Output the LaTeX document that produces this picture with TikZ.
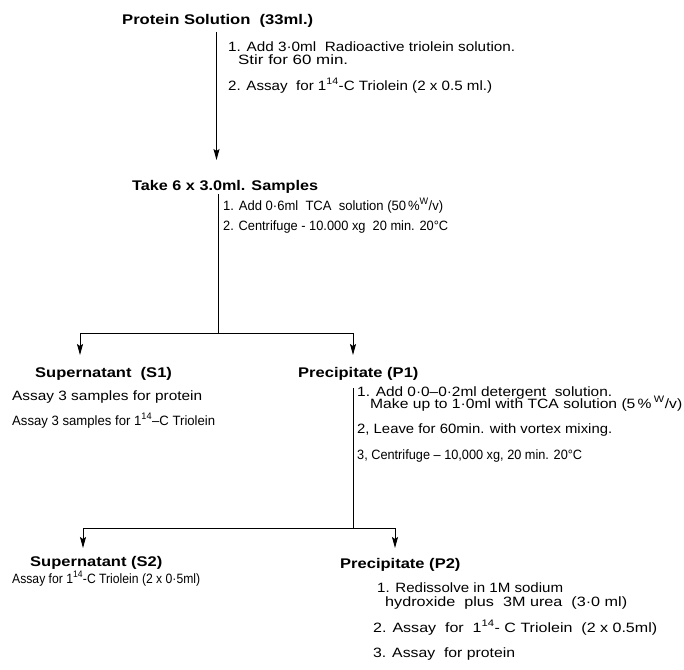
\documentclass[tikz,border=0pt]{standalone}
\usepackage{fontspec}
\usepackage{graphicx}
\usetikzlibrary{arrows.meta}
\newfontfamily\stepfont[FakeStretch=1.14]{Liberation Sans}
\newfontfamily\headfont[FakeStretch=1.18]{Liberation Sans}
\newcommand\fitw[2]{\resizebox{#1pt}{\height}{#2}}
\begin{document}
\begin{tikzpicture}[x=1pt,y=-1pt,
  txt/.style={anchor=base west,inner sep=0pt,font=\stepfont\fontsize{13.5}{14}\selectfont},
  head/.style={anchor=base west,inner sep=0pt,font=\headfont\bfseries\fontsize{14}{15}\selectfont},
  conn/.style={line width=0.9pt},
  arr/.style={conn,-{Stealth[length=11pt,width=6pt,inset=2pt]}}]
\fill[white] (0,0) rectangle (684,669);
\useasboundingbox (0,0) rectangle (684,669);
% texts
\node[head] (h1) at (122,25) {\fitw{191}{Protein\ Solution\ \ (33ml.)}};
\node[txt] (s1a) at (228,52) {\fitw{287}{1. Add 3·0ml\ \ Radioactive triolein solution.}};
\node[txt] (s1b) at (238,64) {\fitw{110}{Stir for 60 min.}};
\node[txt] (s1c) at (228,90) {\fitw{264}{2. Assay\ \ for 1\textsuperscript{14}-C Triolein (2 x 0.5 ml.)}};
\node[head] (h2) at (132,190) {\fitw{186}{Take 6 x 3.0ml. Samples}};
\node[txt] (s2a) at (223,210) {\fitw{220}{1. Add 0·6ml\ \ TCA\ \ solution (50\,\%\textsuperscript{W}/v)}};
\node[txt] (s2b) at (223,230) {\fitw{225}{2. Centrifuge - 10.000 xg\ \ 20 min. 20°C}};
\node[head] (hs1) at (35,377) {Supernatant\ \ (S1)};
\node[head] (hp1) at (298,377) {Precipitate (P1)};
\node[txt] (a1) at (12,400) {\fitw{190}{Assay 3 samples for protein}};
\node[txt] (a2) at (12,425) {\fitw{203}{Assay 3 samples for 1\textsuperscript{14}–C Triolein}};
\node[txt] (p1a) at (357,396) {\fitw{255}{1. Add 0·0–0·2ml detergent\ \ solution.}};
\node[txt] (p1b) at (370,408) {\fitw{312}{Make up to 1·0ml with TCA solution (5\,\%\,\textsuperscript{W}/v)}};
\node[txt] (p1c) at (357,433) {\fitw{255}{2, Leave for 60min. with vortex mixing.}};
\node[txt] (p1d) at (357,459) {\fitw{225}{3, Centrifuge – 10,000 xg, 20 min. 20°C}};
\node[head] (hs2) at (30,566) {Supernatant (S2)};
\node[head] (hp2) at (340,568) {Precipitate (P2)};
\node[txt] (a3) at (12,583) {\fitw{188}{Assay for 1\textsuperscript{14}-C Triolein (2 x 0·5ml)}};
\node[txt] (p2a) at (377,592) {\fitw{186}{1. Redissolve in 1M sodium}};
\node[txt] (p2b) at (385,606) {\fitw{242}{hydroxide\ \ plus\ \ 3M urea\ \ (3·0 ml)}};
\node[txt] (p2c) at (373,632) {\fitw{284}{2. Assay\ \ for\ \ 1\textsuperscript{14}- C Triolein\ \ (2 x 0.5ml)}};
\node[txt] (p2d) at (373,657) {\fitw{142}{3. Assay\ \ for protein}};
% connectors
\coordinate (c1s) at (216.5,32); \coordinate (c1e) at (216.5,160);
\draw[arr] (c1s) -- (c1e);
\coordinate (c2s) at (218,194); \coordinate (j1) at (218,333);
\coordinate (t1l) at (80,355); \coordinate (t1r) at (353,355);
\draw[conn] (c2s) -- (j1);
\draw[arr] (j1) -| (t1l);
\draw[arr] (j1) -| (t1r);
\coordinate (c3s) at (353,388); \coordinate (j2) at (353,528);
\coordinate (t2l) at (83,548); \coordinate (t2r) at (395,548);
\draw[conn] (c3s) -- (j2);
\draw[arr] (j2) -| (t2l);
\draw[arr] (j2) -| (t2r);
\end{tikzpicture}
\end{document}
